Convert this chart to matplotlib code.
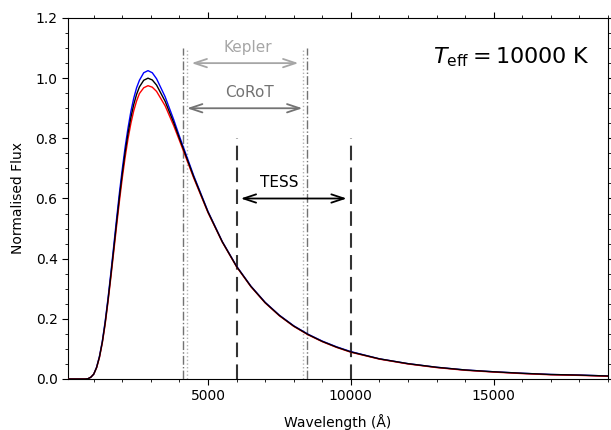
import matplotlib
matplotlib.use("Agg")
import matplotlib.pyplot as plt
from matplotlib.ticker import MultipleLocator

# Wavelength grid (Angstrom) and normalised fluxes
wavelength = [100, 500, 700, 800, 900, 1000, 1100, 1200, 1300, 1400, 1500, 1600,
              1700, 1800, 1900, 2000, 2100, 2200, 2300, 2400, 2500, 2600, 2750,
              2900, 3050, 3200, 3500, 3800, 4000, 4500, 5000, 5500, 6000, 6500,
              7000, 7500, 8000, 8500, 9000, 9500, 10000, 11000, 12000, 13000,
              14000, 15000, 16000, 17000, 18000, 19000]

flux_black = [0.0, 0.0, 0.0, 0.001, 0.006, 0.016, 0.038, 0.073, 0.122, 0.186, 0.262,
              0.345, 0.432, 0.520, 0.605, 0.683, 0.754, 0.816, 0.869, 0.912, 0.946,
              0.971, 0.993, 1.000, 0.994, 0.977, 0.923, 0.852, 0.800, 0.672, 0.555,
              0.456, 0.374, 0.308, 0.254, 0.211, 0.176, 0.148, 0.125, 0.106, 0.090,
              0.067, 0.051, 0.039, 0.030, 0.024, 0.019, 0.015, 0.013, 0.010]

flux_blue = [0.0, 0.0, 0.0, 0.001, 0.006, 0.016, 0.039, 0.075, 0.125, 0.191, 0.268,
             0.353, 0.442, 0.532, 0.619, 0.698, 0.771, 0.834, 0.889, 0.933, 0.968,
             0.993, 1.018, 1.025, 1.018, 0.998, 0.938, 0.862, 0.807, 0.676, 0.557,
             0.457, 0.375, 0.309, 0.255, 0.212, 0.177, 0.149, 0.126, 0.107, 0.091,
             0.067, 0.051, 0.039, 0.030, 0.024, 0.019, 0.015, 0.013, 0.010]

flux_red = [0.0, 0.0, 0.0, 0.001, 0.006, 0.016, 0.037, 0.071, 0.119, 0.181, 0.256,
            0.337, 0.422, 0.508, 0.591, 0.668, 0.737, 0.798, 0.849, 0.891, 0.924,
            0.949, 0.968, 0.975, 0.970, 0.956, 0.908, 0.842, 0.793, 0.668, 0.553,
            0.455, 0.373, 0.307, 0.253, 0.210, 0.175, 0.147, 0.124, 0.105, 0.089,
            0.066, 0.050, 0.038, 0.029, 0.023, 0.018, 0.014, 0.012, 0.009]

# Instrument bandpasses (Angstrom)
kepler_band = [4280, 8310]
corot_band = [4120, 8450]
tess_band = [6000, 10000]
band_names = ["Kepler", "CoRoT", "TESS"]
teff_label = r"$T_{\rm eff} = 10000$ K"

fig = plt.figure(figsize=(6.11, 4.30), dpi=100)
ax = fig.add_axes([68/611, 1 - 379/430, 540/611, 361/430])

ax.plot(wavelength, flux_blue, color="blue", lw=1.0, zorder=3)
ax.plot(wavelength, flux_red, color="red", lw=1.0, zorder=3)
ax.plot(wavelength, flux_black, color="black", lw=1.0, zorder=4)

# Band edges
for xv in corot_band:
    ax.plot([xv, xv], [0, 1.1], ls="-.", color="0.45", lw=1.0, zorder=2)
for xv in kepler_band:
    ax.plot([xv, xv], [0, 1.1], ls=":", color="0.7", lw=1.0, zorder=2)
for xv in tess_band:
    ax.plot([xv, xv], [0, 0.8], ls=(0, (7, 3.5)), color="0.2", lw=1.5, zorder=2)

def band_arrow(band, y, color, name, tx):
    ax.annotate("", xy=(band[1], y), xytext=(band[0], y),
                arrowprops=dict(arrowstyle="<->,head_length=0.6,head_width=0.2",
                                color=color, lw=1.3, shrinkA=3, shrinkB=3,
                                mutation_scale=15))
    ax.text(tx, y + 0.052, name, color=color, fontsize=11, ha="center", va="center")

band_arrow(kepler_band, 1.05, "0.65", band_names[0], 6380)
band_arrow(corot_band, 0.90, "0.45", band_names[1], 6460)
band_arrow(tess_band, 0.60, "black", band_names[2], 7480)

ax.text(0.967, 0.892, teff_label, transform=ax.transAxes, fontsize=16,
        ha="right", va="center")

ax.set_xlim(100, 19000)
ax.set_ylim(0, 1.2)
ax.xaxis.set_major_locator(MultipleLocator(5000))
ax.xaxis.set_minor_locator(MultipleLocator(1000))
ax.yaxis.set_major_locator(MultipleLocator(0.2))
ax.yaxis.set_minor_locator(MultipleLocator(0.05))
ax.tick_params(which="both", direction="out", top=True, right=True, labelsize=10)
ax.tick_params(which="major", length=4)
ax.tick_params(which="minor", length=2)

ax.set_xlabel("Wavelength (Å)", fontsize=10)
ax.set_ylabel("Normalised Flux", fontsize=10)
ax.xaxis.set_label_coords(0.5, -0.097)
ax.yaxis.set_label_coords(-0.08, 0.5)

fig.savefig("out.png", dpi=100)
